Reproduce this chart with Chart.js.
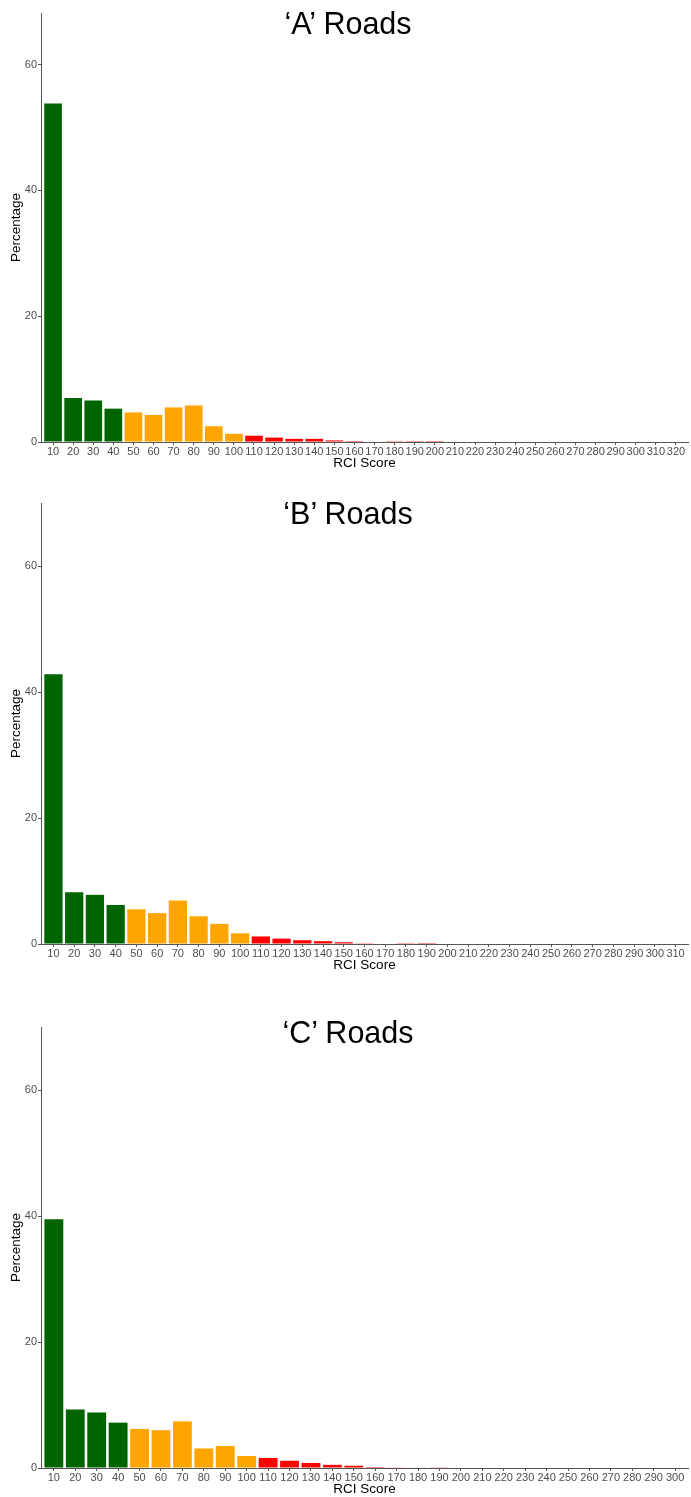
<!DOCTYPE html>
<html lang="en">
<head>
    <meta charset="UTF-8">
    <title>RCI Score distribution</title>
    <script src="https://cdn.jsdelivr.net/npm/chart.js"></script>
    <style>
        body {
            margin: 0;
            background-color: #ffffff;
            font-family: "Liberation Sans", Arial, sans-serif;
        }
        .panel {
            position: absolute;
            left: 0;
            width: 691px;
        }
        .road-title {
            position: absolute;
            left: 348px;
            transform: translateX(-50%);
            font-size: 30.5px;
            line-height: 30px;
            color: #000;
            white-space: nowrap;
            z-index: 2;
        }
    </style>
</head>
<body>

    <div class="road-title" style="top: 8px;">‘A’ Roads</div>
    <div class="panel" style="top: 0px; height: 472px;"><canvas id="chartA"></canvas></div>

    <div class="road-title" style="top: 498px;">‘B’ Roads</div>
    <div class="panel" style="top: 490px; height: 484px;"><canvas id="chartB"></canvas></div>

    <div class="road-title" style="top: 1017px;">‘C’ Roads</div>
    <div class="panel" style="top: 1014px; height: 484px;"><canvas id="chartC"></canvas></div>

    <script>
        // RCI score bands (x categories)
        const scoresA = [10, 20, 30, 40, 50, 60, 70, 80, 90, 100, 110, 120, 130, 140, 150, 160,
                         170, 180, 190, 200, 210, 220, 230, 240, 250, 260, 270, 280, 290, 300, 310, 320];
        const scoresB = scoresA.slice(0, 31);
        const scoresC = scoresA.slice(0, 30);

        // percentage of road length in each band
        const pctA = [53.8, 7.0, 6.6, 5.3, 4.7, 4.3, 5.5, 5.8, 2.5, 1.3, 1.0, 0.7, 0.5, 0.5, 0.25, 0.15,
                      0.08, 0.03, 0.02, 0.01, 0, 0, 0, 0, 0, 0, 0, 0, 0, 0, 0, 0];
        const pctB = [42.8, 8.2, 7.8, 6.2, 5.5, 4.9, 6.9, 4.4, 3.2, 1.7, 1.2, 0.85, 0.6, 0.45, 0.28, 0.12,
                      0.08, 0.03, 0.01, 0, 0, 0, 0, 0, 0, 0, 0, 0, 0, 0, 0];
        const pctC = [39.5, 9.3, 8.8, 7.2, 6.2, 6.0, 7.4, 3.1, 3.5, 1.9, 1.6, 1.15, 0.8, 0.5, 0.36, 0.15,
                      0.1, 0.07, 0.05, 0, 0, 0, 0, 0, 0, 0, 0, 0, 0, 0];

        const yTicks = [0, 20, 40, 60];

        const tickFont = { family: '"Liberation Sans", Arial, sans-serif', size: 11 };
        const titleFont = { family: '"Liberation Sans", Arial, sans-serif', size: 13.5 };
        const axisGrey = '#555555';

        // green = good, orange = plan investigation, red = poor
        function bandColour(score) {
            if (score <= 40) return '#006400';
            if (score <= 100) return '#FFA500';
            return '#FF0000';
        }

        function makeChart(id, scores, pct, yMax) {
            const ctx = document.getElementById(id).getContext('2d');
            return new Chart(ctx, {
                type: 'bar',
                data: {
                    datasets: [{
                        data: scores.map((s, i) => ({ x: s, y: pct[i] })),
                        backgroundColor: scores.map(bandColour),
                        borderWidth: 0,
                        barPercentage: 0.88,
                        categoryPercentage: 1.0
                    }]
                },
                options: {
                    responsive: true,
                    maintainAspectRatio: false,
                    animation: false,
                    layout: { padding: { left: 0, right: 3, top: 13, bottom: 1 } },
                    plugins: {
                        legend: { display: false },
                        tooltip: { enabled: false }
                    },
                    scales: {
                        x: {
                            type: 'linear',
                            offset: false,
                            min: scores[0] - 6,
                            max: scores[scores.length - 1] + 6,
                            afterBuildTicks: axis => { axis.ticks = scores.map(v => ({ value: v })); },
                            afterFit: axis => { axis.height = 29; },
                            grid: { display: true, drawOnChartArea: false, offset: false, tickLength: 3, color: axisGrey },
                            border: { display: true, color: axisGrey, width: 1 },
                            ticks: { autoSkip: false, maxRotation: 0, padding: 0, color: '#4D4D4D', font: tickFont },
                            title: { display: true, text: 'RCI Score', color: '#000', font: titleFont, padding: { top: 0, bottom: 0 } }
                        },
                        y: {
                            min: 0,
                            max: yMax,
                            afterBuildTicks: axis => { axis.ticks = yTicks.map(v => ({ value: v })); },
                            afterFit: axis => { axis.width = 41; },
                            grid: { display: true, drawOnChartArea: false, tickLength: 3, color: axisGrey },
                            border: { display: true, color: axisGrey, width: 1 },
                            ticks: { padding: 1, color: '#4D4D4D', font: tickFont },
                            title: { display: true, text: 'Percentage', color: '#000', font: titleFont, padding: { top: 8, bottom: 0 } }
                        }
                    }
                }
            });
        }

        makeChart('chartA', scoresA, pctA, 68.2);
        makeChart('chartB', scoresB, pctB, 70);
        makeChart('chartC', scoresC, pctC, 70);
    </script>
</body>
</html>
